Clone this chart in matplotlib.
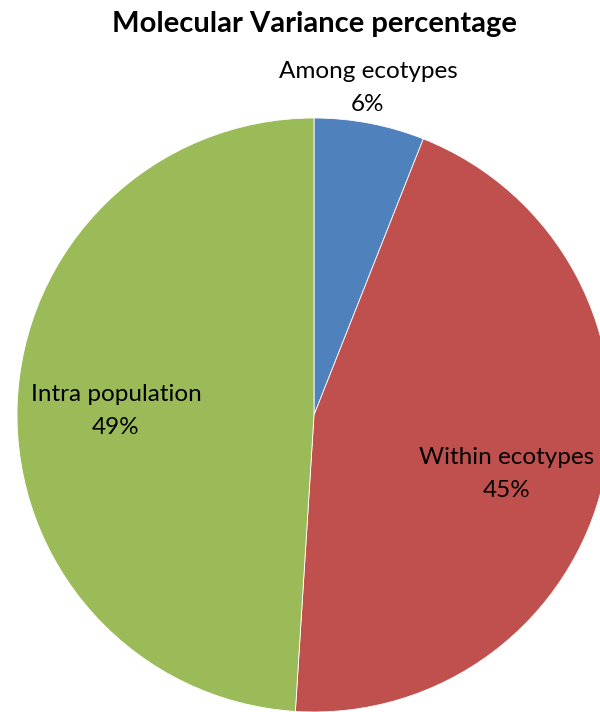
import matplotlib
matplotlib.use("Agg")
import matplotlib.pyplot as plt

categories = ["Among ecotypes", "Within ecotypes", "Intra population"]
percentages = [6, 45, 49]
colors = ["#4F81BD", "#C0504D", "#9BBB59"]

W, H = 600, 712
fig = plt.figure(figsize=(W / 100, H / 100), dpi=100)
ax = fig.add_axes([0, 0, 1, 1])
ax.set_xlim(0, W)
ax.set_ylim(0, H)
ax.set_aspect("equal")
ax.axis("off")

cx, cy, r = 314, H - 415, 297
wedges, _ = ax.pie(percentages, colors=colors, startangle=90, counterclock=False,
                   center=(cx, cy), radius=r,
                   wedgeprops=dict(edgecolor="white", linewidth=0.6))
ax.set_xlim(0, W)
ax.set_ylim(0, H)

font = ["Lato", "DejaVu Sans"]
ax.text(314, H - 24, "Molecular Variance percentage", ha="center", va="center",
        fontsize=21, fontweight="bold", family=font)

label_pos = [(368, H - 88), (507, H - 474), (116, H - 411)]
for name, pct, (x, y) in zip(categories, percentages, label_pos):
    ax.text(x, y, f"{name}\n{pct}%", ha="center", va="center",
            fontsize=17.5, family=font, linespacing=1.65, color="black")

fig.savefig("out.png", dpi=100)
